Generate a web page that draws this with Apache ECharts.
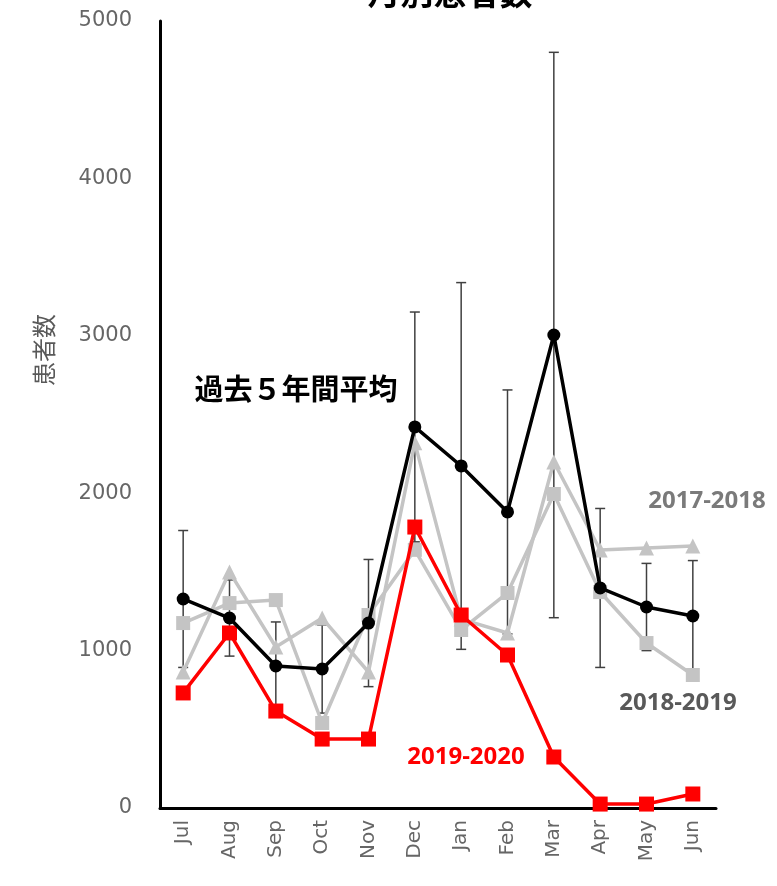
<!DOCTYPE html>
<html>
<head>
<meta charset="utf-8">
<script src="https://cdn.jsdelivr.net/npm/echarts@6/dist/echarts.min.js"></script>
<style>
  html, body { margin: 0; padding: 0; background: #fff; }
  #chart { width: 777px; height: 886px; }
</style>
</head>
<body>
<div id="chart"></div>
<script>
// months of the season (Jul -> Jun)
var months = ['Jul', 'Aug', 'Sep', 'Oct', 'Nov', 'Dec', 'Jan', 'Feb', 'Mar', 'Apr', 'May', 'Jun'];

// 過去5年間平均 and its SD (error bars)
var avg5y = [1328, 1207, 902, 883, 1175, 2421, 2173, 1881, 3005, 1398, 1277, 1220];
var sd5y  = [435, 242, 280, 280, 404, 730, 1165, 775, 1796, 505, 277, 352];

var s2017 = [864, 1500, 1023, 1207, 864, 2320, 1200, 1112, 2198, 1639, 1652, 1665];
var s2018 = [1175, 1302, 1321, 540, 1226, 1640, 1131, 1366, 1995, 1372, 1048, 845];
var s2019 = [731, 1112, 616, 438, 438, 1785, 1226, 972, 324, 25, 25, 89];

var yTicks = [0, 1000, 2000, 3000, 4000, 5000];

var errData = months.map(function (m, i) {
  return [i, avg5y[i] - sd5y[i], avg5y[i] + sd5y[i]];
});

var chart = echarts.init(document.getElementById('chart'));

var option = {
  backgroundColor: '#fff',
  animation: false,
  grid: { left: 160, right: 61, top: 21, bottom: 78 },
  xAxis: {
    type: 'category',
    data: months,
    boundaryGap: true,
    axisLine: { lineStyle: { color: '#000', width: 3 } },
    axisTick: { show: false },
    axisLabel: {
      rotate: 90, color: '#666', fontSize: 20,
      fontFamily: 'DejaVu Sans', margin: 12
    }
  },
  yAxis: {
    type: 'value',
    min: yTicks[0],
    max: yTicks[yTicks.length - 1],
    interval: 1000,
    axisLine: { show: true, lineStyle: { color: '#000', width: 3 } },
    axisTick: { show: false },
    splitLine: { show: false },
    axisLabel: {
      color: '#666', fontSize: 21, fontFamily: 'DejaVu Sans', margin: 28,
      formatter: function (v) { return String(v); }
    }
  },
  series: [
    {
      name: '2017-2018', type: 'line', data: s2017,
      symbol: 'triangle', symbolSize: 15,
      lineStyle: { color: '#c4c4c4', width: 3.5 },
      itemStyle: { color: '#c4c4c4' }
    },
    {
      name: '2018-2019', type: 'line', data: s2018,
      symbol: 'rect', symbolSize: 14,
      lineStyle: { color: '#c4c4c4', width: 3.5 },
      itemStyle: { color: '#c4c4c4' }
    },
    {
      name: 'SD', type: 'custom', data: errData, z: 3,
      renderItem: function (params, api) {
        var x = api.value(0);
        var lo = api.coord([x, api.value(1)]);
        var hi = api.coord([x, api.value(2)]);
        var w = 5;
        var st = { stroke: '#404040', lineWidth: 1.5 };
        return {
          type: 'group',
          children: [
            { type: 'line', shape: { x1: lo[0], y1: lo[1], x2: hi[0], y2: hi[1] }, style: st },
            { type: 'line', shape: { x1: hi[0] - w, y1: hi[1], x2: hi[0] + w, y2: hi[1] }, style: st },
            { type: 'line', shape: { x1: lo[0] - w, y1: lo[1], x2: lo[0] + w, y2: lo[1] }, style: st }
          ]
        };
      }
    },
    {
      name: '2019-2020', type: 'line', data: s2019, z: 4,
      symbol: 'rect', symbolSize: 15,
      lineStyle: { color: '#ff0000', width: 3.5 },
      itemStyle: { color: '#ff0000' }
    },
    {
      name: '過去5年間平均', type: 'line', data: avg5y, z: 5,
      symbol: 'circle', symbolSize: 13,
      lineStyle: { color: '#000', width: 3.5 },
      itemStyle: { color: '#000' }
    }
  ],
  graphic: [
    {
      type: 'text', x: 450, y: 9,
      style: {
        text: '月別患者数', fill: '#000', align: 'center', verticalAlign: 'bottom',
        font: 'bold 33px "Noto Sans CJK JP"'
      }
    },
    {
      type: 'text', x: 44, y: 350, rotation: Math.PI / 2,
      style: {
        text: '患者数', fill: '#595959', align: 'center', verticalAlign: 'middle',
        font: '24px "Noto Sans CJK JP"'
      }
    },
    {
      type: 'text', x: 296, y: 389,
      style: {
        text: '過去５年間平均', fill: '#000', align: 'center', verticalAlign: 'middle',
        font: 'bold 29px "Noto Sans CJK JP"'
      }
    },
    {
      type: 'text', x: 707, y: 501,
      style: {
        text: '2017-2018', fill: '#7a7a7a', align: 'center', verticalAlign: 'middle',
        font: 'bold 24px "Open Sans"'
      }
    },
    {
      type: 'text', x: 678, y: 703,
      style: {
        text: '2018-2019', fill: '#595959', align: 'center', verticalAlign: 'middle',
        font: 'bold 24px "Open Sans"'
      }
    },
    {
      type: 'text', x: 466, y: 757,
      style: {
        text: '2019-2020', fill: '#ff0000', align: 'center', verticalAlign: 'middle',
        font: 'bold 24px "Open Sans"'
      }
    }
  ]
};

chart.setOption(option);
</script>
</body>
</html>
